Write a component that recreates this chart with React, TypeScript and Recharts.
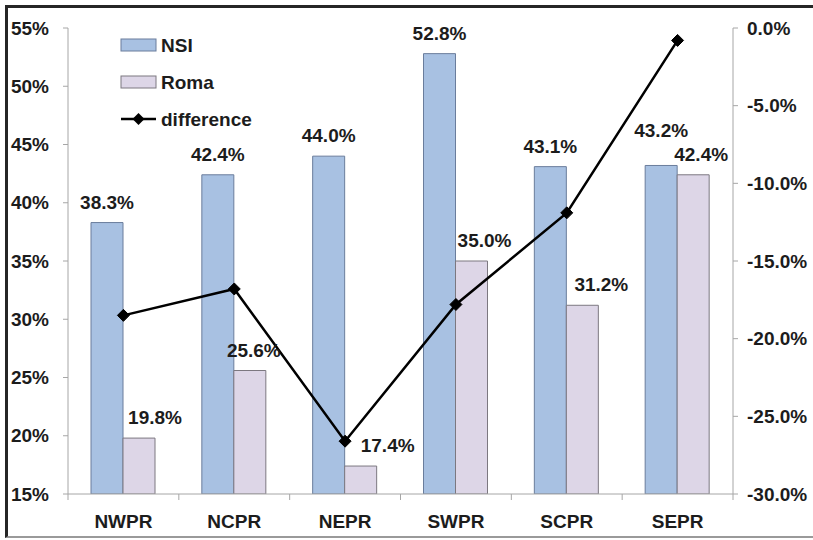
import React from 'react';
import { ComposedChart, Bar, Line, XAxis, YAxis, LabelList } from 'recharts';

const categories = ['NWPR', 'NCPR', 'NEPR', 'SWPR', 'SCPR', 'SEPR'];
const nsiValues = [38.3, 42.4, 44.0, 52.8, 43.1, 43.2];
const romaValues = [19.8, 25.6, 17.4, 35.0, 31.2, 42.4];
const differenceValues = [-18.5, -16.8, -26.6, -17.8, -11.9, -0.8];
const leftTicks = [15, 20, 25, 30, 35, 40, 45, 50, 55];
const rightTicks = [-30, -25, -20, -15, -10, -5, 0];

const data = categories.map((c, i) => ({
  name: c,
  NSI: nsiValues[i],
  Roma: romaValues[i],
  difference: differenceValues[i],
}));

// label nudges (layout only), as placed by hand in the original chart
const ROMA_LABEL_DX = [16, 4, 27, 13, 19, 8];
const NSI_LABEL_DY = [0, 0, 0, 0, 0, -14];

const W = 813;
const H = 540;
const PLOT_LEFT = 68;
const PLOT_RIGHT = 733;
const PLOT_TOP = 28;
const PLOT_BOTTOM = 494;
const BAND = (PLOT_RIGHT - PLOT_LEFT) / categories.length;
const FONT = '"Liberation Sans", Arial, sans-serif';
const FS = 19;
const TEXT = '#1c1c1c';
const AXIS = '#a6a6a6';
const NSI_FILL = '#a8c1e2';
const NSI_STROKE = '#6a7d9c';
const ROMA_FILL = '#ddd6e7';
const ROMA_STROKE = '#7c7880';

const XTick = (props: any) => {
  const { x, payload, index } = props;
  return (
    <g>
      <line x1={x - BAND / 2} x2={x - BAND / 2} y1={PLOT_BOTTOM} y2={PLOT_BOTTOM + 6} stroke={AXIS} />
      {index === categories.length - 1 && (
        <line x1={x + BAND / 2} x2={x + BAND / 2} y1={PLOT_BOTTOM} y2={PLOT_BOTTOM + 6} stroke={AXIS} />
      )}
      <text x={x} y={PLOT_BOTTOM + 34} textAnchor="middle" fontFamily={FONT} fontWeight="bold" fontSize={FS} fill={TEXT}>
        {payload.value}
      </text>
    </g>
  );
};

const Diamond = (props: any) => {
  const { cx, cy } = props;
  if (cx == null || cy == null) return null;
  const s = 6;
  return <polygon points={`${cx},${cy - s} ${cx + s},${cy} ${cx},${cy + s} ${cx - s},${cy}`} fill="#000" stroke="#000" />;
};

const RomaLabel = (props: any) => {
  const { x, y, width, value, index } = props;
  return (
    <text x={x + width / 2 + (ROMA_LABEL_DX[index] ?? 14)} y={y - 14} textAnchor="middle" fontFamily={FONT} fontWeight="bold" fontSize={FS} fill={TEXT}>
      {`${Number(value).toFixed(1)}%`}
    </text>
  );
};

const NsiLabel = (props: any) => {
  const { x, y, width, value, index } = props;
  return (
    <text x={x + width / 2} y={y - 14 + (NSI_LABEL_DY[index] ?? 0)} textAnchor="middle" fontFamily={FONT} fontWeight="bold" fontSize={FS} fill={TEXT}>
      {`${Number(value).toFixed(1)}%`}
    </text>
  );
};

const LegendBox = () => (
  <svg width={170} height={110} style={{ position: 'absolute', left: 115, top: 30 }}>
    <rect x={6} y={9} width={35} height={12} fill={NSI_FILL} stroke={NSI_STROKE} />
    <text x={46} y={22} fontFamily={FONT} fontWeight="bold" fontSize={FS} fill={TEXT}>NSI</text>
    <rect x={6} y={46} width={35} height={12} fill={ROMA_FILL} stroke={ROMA_STROKE} />
    <text x={46} y={59} fontFamily={FONT} fontWeight="bold" fontSize={FS} fill={TEXT}>Roma</text>
    <line x1={6} x2={41} y1={89} y2={89} stroke="#000" strokeWidth={2.5} />
    <polygon points="23.5,83 29.5,89 23.5,95 17.5,89" fill="#000" />
    <text x={46} y={96} fontFamily={FONT} fontWeight="bold" fontSize={FS} fill={TEXT}>difference</text>
  </svg>
);

export default function App() {
  return (
    <div style={{ position: 'absolute', left: 0, top: 0, width: W, height: H, background: '#fff' }}>
      <div
        style={{
          position: 'absolute',
          left: 5,
          top: 5,
          width: W - 5,
          height: H - 7,
          borderTop: '3px solid #262626',
          borderLeft: '3px solid #262626',
          borderBottom: '2px solid #9a9a9a',
          boxSizing: 'border-box',
        }}
      />
      <div style={{ position: 'absolute', left: 0, top: 0 }}>
        <ComposedChart
          width={W}
          height={H}
          data={data}
          margin={{ top: PLOT_TOP, bottom: 0, left: PLOT_LEFT - 60, right: W - PLOT_RIGHT - 80 }}
          barGap={0}
          barCategoryGap="21%"
        >
          <XAxis
            dataKey="name"
            axisLine={{ stroke: AXIS }}
            tickLine={false}
            tick={<XTick />}
            height={H - PLOT_BOTTOM}
            interval={0}
          />
          <YAxis
            yAxisId="l"
            width={60}
            domain={[15, 55]}
            ticks={leftTicks}
            interval={0}
            allowDataOverflow
            axisLine={{ stroke: AXIS }}
            tickLine={{ stroke: AXIS }}
            tickSize={5}
            tickMargin={14}
            tickFormatter={(v: number) => `${v}%`}
            tick={{ fontFamily: FONT, fontWeight: 'bold', fontSize: FS, fill: TEXT }}
          />
          <YAxis
            yAxisId="r"
            orientation="right"
            width={80}
            domain={[-30, 0]}
            ticks={rightTicks}
            interval={0}
            axisLine={{ stroke: AXIS }}
            tickLine={{ stroke: AXIS }}
            tickSize={5}
            tickMargin={9}
            tickFormatter={(v: number) => `${v.toFixed(1)}%`}
            tick={{ fontFamily: FONT, fontWeight: 'bold', fontSize: FS, fill: TEXT, textAnchor: 'start' }}
          />
          <Bar dataKey="NSI" yAxisId="l" barSize={32} fill={NSI_FILL} stroke={NSI_STROKE} isAnimationActive={false}>
            <LabelList dataKey="NSI" content={<NsiLabel />} />
          </Bar>
          <Bar dataKey="Roma" yAxisId="l" barSize={32} fill={ROMA_FILL} stroke={ROMA_STROKE} isAnimationActive={false}>
            <LabelList dataKey="Roma" content={<RomaLabel />} />
          </Bar>
          <Line
            dataKey="difference"
            yAxisId="r"
            type="linear"
            stroke="#000"
            strokeWidth={2.5}
            dot={<Diamond />}
            activeDot={false}
            isAnimationActive={false}
          />
        </ComposedChart>
      </div>
      <LegendBox />
    </div>
  );
}
